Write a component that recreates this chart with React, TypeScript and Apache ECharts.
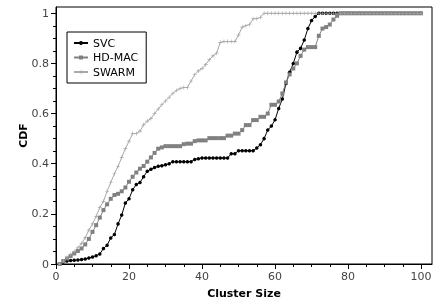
import React, { useEffect, useRef } from "react";
import * as echarts from "echarts";

// cluster sizes are 1..100 (index + 1)
const svc = [
  0, 0.008, 0.012, 0.014, 0.015, 0.016, 0.018, 0.02, 0.024, 0.028,
  0.033, 0.04, 0.062, 0.075, 0.104, 0.118, 0.16, 0.195, 0.243, 0.26,
  0.296, 0.317, 0.325, 0.348, 0.37, 0.378, 0.385, 0.39, 0.392, 0.396,
  0.4, 0.408, 0.408, 0.408, 0.408, 0.408, 0.408, 0.417, 0.42, 0.423,
  0.423, 0.423, 0.423, 0.423, 0.423, 0.423, 0.423, 0.44, 0.44, 0.452,
  0.452, 0.452, 0.452, 0.452, 0.463, 0.476, 0.5, 0.534, 0.55, 0.575,
  0.62, 0.658, 0.72, 0.765, 0.8, 0.845, 0.86, 0.893, 0.939, 0.971,
  0.987, 1, 1, 1, 1, 1, 1, 1, 1, 1,
  1, 1, 1, 1, 1, 1, 1, 1, 1, 1,
  1, 1, 1, 1, 1, 1, 1, 1, 1, 1,
];
const hdmac = [
  0, 0.012, 0.022, 0.032, 0.042, 0.052, 0.062, 0.078, 0.1, 0.128,
  0.155, 0.185, 0.215, 0.238, 0.26, 0.275, 0.28, 0.29, 0.305, 0.328,
  0.348, 0.365, 0.38, 0.391, 0.408, 0.425, 0.443, 0.46, 0.465, 0.47,
  0.47, 0.47, 0.47, 0.47, 0.478, 0.48, 0.48, 0.49, 0.493, 0.493,
  0.493, 0.502, 0.502, 0.502, 0.502, 0.502, 0.512, 0.512, 0.52, 0.52,
  0.534, 0.554, 0.554, 0.574, 0.574, 0.587, 0.587, 0.6, 0.635, 0.635,
  0.648, 0.68, 0.724, 0.756, 0.78, 0.8, 0.83, 0.855, 0.865, 0.865,
  0.865, 0.91, 0.939, 0.945, 0.955, 0.975, 0.99, 1, 1, 1,
  1, 1, 1, 1, 1, 1, 1, 1, 1, 1,
  1, 1, 1, 1, 1, 1, 1, 1, 1, 1,
];
const swarm = [
  0, 0.012, 0.025, 0.038, 0.05, 0.065, 0.082, 0.105, 0.135, 0.16,
  0.19, 0.225, 0.25, 0.29, 0.325, 0.36, 0.39, 0.425, 0.46, 0.49,
  0.52, 0.52, 0.53, 0.555, 0.57, 0.58, 0.6, 0.618, 0.635, 0.65,
  0.665, 0.68, 0.692, 0.7, 0.704, 0.704, 0.73, 0.755, 0.77, 0.78,
  0.795, 0.815, 0.83, 0.841, 0.884, 0.887, 0.887, 0.887, 0.887, 0.913,
  0.945, 0.95, 0.955, 0.978, 0.978, 0.984, 1, 1, 1, 1,
  1, 1, 1, 1, 1, 1, 1, 1, 1, 1,
  1, 1, 1, 1, 1, 1, 1, 1, 1, 1,
  1, 1, 1, 1, 1, 1, 1, 1, 1, 1,
  1, 1, 1, 1, 1, 1, 1, 1, 1, 1,
];

const xLabels = [0, 20, 40, 60, 80, 100];
const xMinorTicks = [0, 5, 10, 15, 20, 25, 30, 35, 40, 45, 50, 55, 60, 65, 70, 75, 80, 85, 90, 95, 100];
const yLabels = [0, 0.2, 0.4, 0.6, 0.8, 1];
const yMinorTicks = [0, 0.05, 0.1, 0.15, 0.2, 0.25, 0.3, 0.35, 0.4, 0.45, 0.5, 0.55, 0.6, 0.65, 0.7, 0.75, 0.8, 0.85, 0.9, 0.95, 1];

const FONT = "DejaVu Sans";
const PLUS = "path://M0,4.2 L10,4.2 L10,5.8 L0,5.8 Z M4.2,0 L5.8,0 L5.8,10 L4.2,10 Z";

export default function App() {
  const ref = useRef<HTMLDivElement>(null);
  useEffect(() => {
    const chart = echarts.init(ref.current!, null, { renderer: "svg" });
    const pts = (arr: number[]) => arr.map((v, i) => [i + 1, v]);
    const axisCommon = { min: 0, type: "value" as const, splitLine: { show: false } };
    chart.setOption({
      animation: false,
      grid: {
        left: 56, right: 3, top: 7, bottom: 36,
        show: true, borderColor: "#000", borderWidth: 1,
      },
      xAxis: [
        {
          ...axisCommon, max: 103, position: "bottom",
          name: "Cluster Size", nameLocation: "middle", nameGap: 24, nameMoveOverlap: false,
          nameTextStyle: { fontWeight: "bold", fontSize: 11, color: "#000", fontFamily: FONT },
          axisLine: { show: true, lineStyle: { color: "#000", width: 1 } },
          axisTick: { show: true, customValues: xLabels, length: 5, lineStyle: { color: "#000" } },
          axisLabel: { customValues: xLabels, fontSize: 11, color: "#444", margin: 7, fontFamily: FONT },
        },
        {
          ...axisCommon, max: 103, position: "bottom",
          axisLine: { show: false },
          axisTick: { show: true, customValues: xMinorTicks, length: 3, lineStyle: { color: "#000" } },
          axisLabel: { show: false },
        },
      ],
      yAxis: [
        {
          ...axisCommon, max: 1.025, position: "left",
          name: "CDF", nameLocation: "middle", nameGap: 27, nameRotate: 90, nameMoveOverlap: false,
          nameTextStyle: { fontWeight: "bold", fontSize: 11, color: "#000", fontFamily: FONT },
          axisLine: { show: true, lineStyle: { color: "#000", width: 1 } },
          axisTick: { show: true, customValues: yLabels, length: 5, lineStyle: { color: "#000" } },
          axisLabel: { customValues: yLabels, fontSize: 11, color: "#444", margin: 7, fontFamily: FONT },
        },
        {
          ...axisCommon, max: 1.025, position: "left",
          axisLine: { show: false },
          axisTick: { show: true, customValues: yMinorTicks, length: 3, lineStyle: { color: "#000" } },
          axisLabel: { show: false },
        },
      ],
      legend: {
        orient: "vertical", left: 67, top: 32,
        borderColor: "#000", borderWidth: 1,
        padding: [4, 8, 4, 6], itemGap: 0.5, itemWidth: 14, itemHeight: 5,
        textStyle: { fontSize: 11, color: "#000", fontFamily: FONT, lineHeight: 14 },
        data: ["SVC", "HD-MAC", "SWARM"],
      },
      series: [
        {
          name: "SVC", type: "line", data: pts(svc),
          symbol: "circle", symbolSize: 3.5, showSymbol: true,
          lineStyle: { color: "#000", width: 1 }, itemStyle: { color: "#000" },
        },
        {
          name: "HD-MAC", type: "line", data: pts(hdmac),
          symbol: "rect", symbolSize: 4, showSymbol: true,
          lineStyle: { color: "#808080", width: 1 }, itemStyle: { color: "#808080" },
        },
        {
          name: "SWARM", type: "line", data: pts(swarm),
          symbol: PLUS, symbolSize: 4, showSymbol: true,
          lineStyle: { color: "#a8a8a8", width: 1 }, itemStyle: { color: "#a8a8a8" },
        },
      ],
    });
    return () => chart.dispose();
  }, []);
  return <div ref={ref} style={{ position: "fixed", left: 0, top: 0, width: 435, height: 304 }} />;
}
